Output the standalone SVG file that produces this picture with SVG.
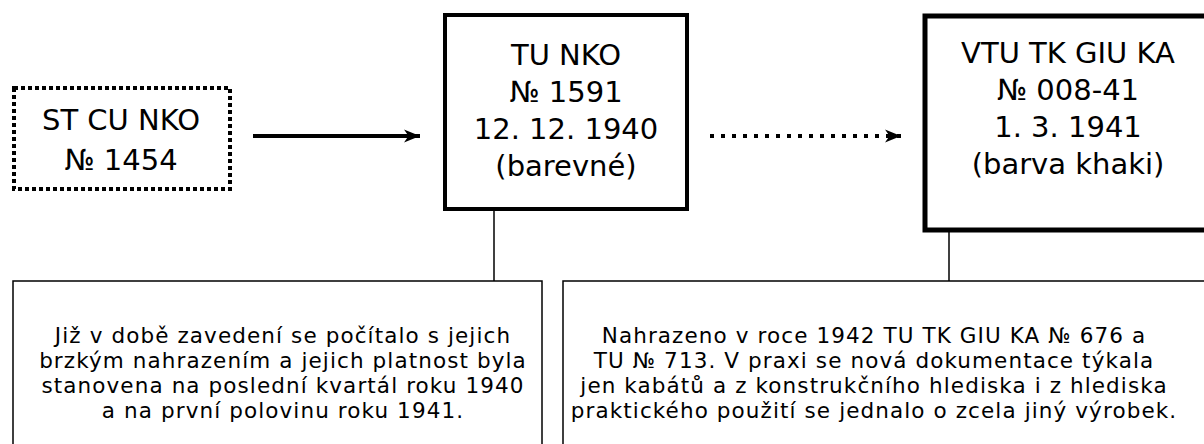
<svg xmlns="http://www.w3.org/2000/svg" width="1204" height="444" viewBox="0 0 1204 444">
<style>
text{font-family:"DejaVu Sans","Liberation Sans",sans-serif;fill:#000;text-anchor:middle}
.big{font-size:29px}
.small{font-size:21.5px;letter-spacing:1.1px}
.box{fill:#fff;stroke:#000}
</style>
<defs>
<marker id="ah" markerWidth="18" markerHeight="14" refX="16" refY="7" orient="auto" markerUnits="userSpaceOnUse">
<path d="M0,0.5 L16,7 L0,13.5 L4.5,7 Z" fill="#000"/>
</marker>
</defs>
<rect width="1204" height="444" fill="#fff"/>
<g id="n1">
<rect class="box" x="14" y="88" width="216" height="101" stroke-width="4" stroke-dasharray="4 3"/>
<text class="big" x="121" y="130">ST CU NKO</text>
<text class="big" x="121" y="170">№ 1454</text>
</g>
<g id="n2">
<rect class="box" x="445" y="15" width="242" height="194" stroke-width="4"/>
<text class="big" x="566" y="65">TU NKO</text>
<text class="big" x="566" y="102">№ 1591</text>
<text class="big" x="566" y="139">12. 12. 1940</text>
<text class="big" x="566" y="176">(barevné)</text>
</g>
<g id="n3">
<rect class="box" x="925" y="16" width="290" height="214" stroke-width="5"/>
<text class="big" x="1068" y="63">VTU TK GIU KA</text>
<text class="big" x="1068" y="100">№ 008-41</text>
<text class="big" x="1068" y="137">1. 3. 1941</text>
<text class="big" x="1068" y="174">(barva khaki)</text>
</g>
<g id="n4">
<rect class="box" x="13" y="281" width="529" height="180" stroke-width="1.5"/>
<text class="small" x="283" y="343">Již v době zavedení se počítalo s jejich</text>
<text class="small" x="283" y="368">brzkým nahrazením a jejich platnost byla</text>
<text class="small" x="283" y="393">stanovena na poslední kvartál roku 1940</text>
<text class="small" x="283" y="418">a na první polovinu roku 1941.</text>
</g>
<g id="n5">
<rect class="box" x="563" y="281" width="660" height="180" stroke-width="1.5"/>
<text class="small" x="874" y="343">Nahrazeno v roce 1942 TU TK GIU KA № 676 a</text>
<text class="small" x="874" y="368">TU № 713. V praxi se nová dokumentace týkala</text>
<text class="small" x="874" y="393">jen kabátů a z konstrukčního hlediska i z hlediska</text>
<text class="small" x="874" y="418">praktického použití se jednalo o zcela jiný výrobek.</text>
</g>
<g id="connectors" stroke="#000" fill="none">
<line x1="253" y1="136" x2="420" y2="136" stroke-width="4" marker-end="url(#ah)"/>
<line x1="710" y1="136" x2="901" y2="136" stroke-width="4" stroke-dasharray="4 7" marker-end="url(#ah)"/>
<line x1="494" y1="211" x2="494" y2="281" stroke-width="1.5"/>
<line x1="949" y1="232" x2="949" y2="281" stroke-width="1.5"/>
</g>
</svg>
